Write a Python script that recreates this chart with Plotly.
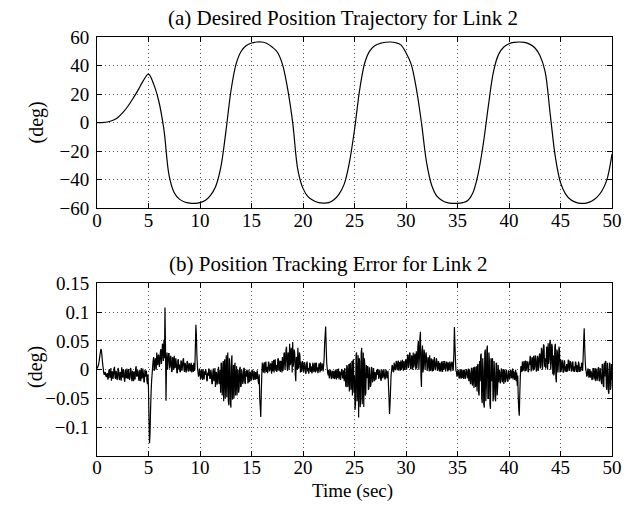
import plotly.graph_objects as go

# ---------------- data ----------------
# (a) desired position of link 2 (deg), sampled every 0.5 s from t = 0 to 50 s
pos_time = [i * 0.5 for i in range(101)]
pos_deg = [
    0, 0.1, 0.5, 1.5, 3.5, 7, 11.5, 17, 23, 29.5,
    34, 27, 15, -5, -37, -49, -53.5, -55.5, -56.3, -56.5,
    -56, -54.5, -51, -45, -32, -7, 22, 41, 50, 54,
    55.8, 56.5, 56.5, 55.5, 53, 49.5, 41, 24, 0, -33,
    -46, -52, -54.5, -56, -56.3, -56, -54, -50, -43, -28,
    -5, 23, 42, 50.5, 54, 55.5, 56.3, 56.5, 56, 54.5,
    49, 41, 24, 0, -28, -44, -51.5, -54.5, -56, -56.5,
    -56.5, -56, -54.5, -49, -36, -15, 12, 36, 48, 53,
    55.3, 56.2, 56.5, 56.2, 55, 52.5, 47, 36, 6, -24,
    -42, -50, -54, -55.8, -56.5, -56.3, -55, -52.5, -48, -40,
    -22,
]

# (b) position tracking error (milli-deg), samples at t = 0.0, 0.1, ... 50.0 s
err_0_10 = [
    2, 6, 14, 27, 36, 20, 3, -9, -4, -13,
    -6, -15, 1, -11, -19, -3, -9, 5, -16, -7,
    -12, -1, -18, -8, 4, -14, -5, -21, -10, 2,
    -16, -7, -13, 0, -20, -9, -3, -17, 6, -11,
    -4, -19, -10, 3, -15, -6, -22, -12, -2, -25,
    -35, -128, -70, -20, 5, 22, 2, 15, 30, 8,
    25, 12, 36, 18, 42, 52, 108, -54, 30, 12,
    28, 6, 20, -2, 15, 24, 4, 12, -6, 18,
    9, -3, 14, 5, 20, -4, 8, 1, 13, -2,
    10, 3, -5, 7, 12, 0, 78, 25, -3, -10,
]
err_10_20 = [
    -2, -14, -7, 1, -17, -9, -4, -20, -11, -1,
    -15, -6, -25, 2, -12, -30, -4, -22, 5, -18,
    -40, 10, -25, -55, 18, -8, -48, 30, -62, 5,
    -66, 25, -35, -50, 12, -20, -45, 0, -32, 5,
    -28, -8, -20, 2, -25, -12, -3, -18, -22, -5,
    -14, -2, -18, -8, -4, -16, -10, -25, -50, -82,
    -8, 10, 3, -6, 14, 5, -2, 12, 0, 8,
    15, 2, -5, 18, 8, 0, 20, 6, -4, 14,
    22, 5, 30, 12, 40, -2, 25, 45, 10, 32,
    48, 15, 28, -20, 20, 38, 5, 25, 14, 0,
]
err_20_30 = [
    12, 0, 8, -6, 14, 3, -2, 10, 6, -4,
    9, 2, -5, 12, 4, -1, 8, 13, 0, 5,
    7, 45, 75, 12, -6, 0, -11, -3, -14, -6,
    -2, -15, -8, 1, -12, -17, -5, -10, 0, -14,
    -20, -6, -30, 5, -15, -38, 12, -25, -45, 18,
    -10, -60, 30, -30, -83, 15, -50, 38, -20, -65,
    10, -40, -15, 5, -32, -8, -25, 2, -18, -10,
    -4, -16, -9, 0, -13, -6, -18, -2, -11, -7,
    -14, -3, -10, -28, -77, -35, -2, 6, -4, 9,
    2, 14, 6, -2, 12, 16, 3, 9, 15, 1,
]
err_30_40 = [
    18, 5, 25, 10, 28, 2, 20, 30, 8, 22,
    32, 12, 50, 20, 66, -30, 42, 5, 28, 15,
    20, 4, 14, 25, -2, 10, 18, 3, 12, 6,
    14, 0, 9, 12, -3, 6, 15, 2, 10, 5,
    8, 13, 1, 10, 6, 12, 4, 74, 18, -4,
    -10, -3, -14, -6, 0, -12, -16, -4, -9, -2,
    -12, -20, -5, -25, 2, -15, -32, 5, -22, -38,
    10, -45, -20, 28, -58, 0, -66, 35, -30, 42,
    -50, 15, -68, -20, 20, -45, -5, -55, 10, -30,
    -22, -5, -18, 0, -12, -25, -3, -15, -8, -20,
]
err_40_50 = [
    -6, -14, -2, -10, -17, -5, -12, -20, -28, -50,
    -80, -12, 6, 14, 0, 9, 16, 2, 12, -3,
    8, 20, 2, 14, 24, 5, 18, -2, 22, 10,
    28, 8, 35, 15, 42, 20, 5, 38, 46, 18,
    52, 12, 40, 25, -5, 45, -22, 30, 10, 35,
    18, 2, 12, -4, 15, 6, 10, -2, 16, 4,
    11, -2, 14, 6, 0, 12, 8, -3, 10, 5,
    2, 9, 22, 72, 15, -4, -10, 0, -8, -14,
    -5, -16, 2, -10, -20, -3, -14, 4, -18, -8,
    -25, 8, -30, -12, 15, -35, -5, -42, 10, -28,
    -18,
]
# samples half-way between the above (t = 0.05, 0.15, ... 49.95 s)
errh_0_10 = [
    4, 9, 20, 33, 30, 10, -5, -6, -10, -8,
    -17, -2, -14, 3, -8, -16, 2, -13, -2, -18,
    3, -16, -4, -19, -10, 1, -17, 0, -15, -11,
    1, -18, 3, -15, -2, -20, -14, 2, -12, -1,
    -18, 0, -20, -14, 2, -21, 0, -3, -20, -8,
    -90, -110, -40, -8, 16, -2, 20, 0, 12, 26,
    5, 30, 10, 45, 15, 20, 40, 10, 0, 28,
    2, 24, -4, 22, 0, 3, 20, -5, 16, 0,
    -4, 16, -2, 17, 0, 12, -5, 15, -3, 11,
    -3, 12, 8, -4, -2, 40, 60, 5, -12, 2,
]
errh_10_20 = [
    -16, 0, -18, -12, -3, 1, -18, -5, 2, -15,
    0, -24, -3, -20, 3, -8, -26, -2, -25, 0,
    12, -45, 15, 8, -50, 25, 10, -55, 20, -58,
    15, -52, 8, 5, -45, 6, -5, -40, 2, -30,
    0, -25, 3, -22, -2, 0, -24, 0, -4, -20,
    0, -16, -2, -18, -15, -1, -20, -8, -65, -40,
    12, -5, 13, 10, -4, -6, 14, -3, 11, -7,
    -3, 17, 14, -2, -4, 18, -2, 16, 15, -5,
    -2, 28, 0, 35, 5, 30, 0, 8, 38, -5,
    5, 35, -8, 22, 0, 2, 30, -5, -4, 15,
]
errh_20_30 = [
    -5, 13, -6, 11, -3, -7, 12, -4, -6, 12,
    -4, 12, 10, -3, -6, 11, -5, -2, 11, -3,
    20, 60, 40, 2, -10, -15, 0, -16, -2, -15,
    -16, 0, -17, -14, 2, -3, -18, 1, -15, -1,
    3, -28, 8, -30, 10, 8, -35, 15, 15, -40,
    -70, 25, -55, 25, 20, -65, 30, -60, 30, 20,
    -45, 8, 6, -35, 4, -30, 5, -22, 3, -20,
    -17, 0, 1, -16, 0, -18, 0, -15, 1, -17,
    0, -15, -2, -50, -60, -10, 8, -3, 12, -1,
    15, -1, 16, 13, -2, 0, 17, -2, 0, 16,
]
errh_30_40 = [
    0, 26, 3, 30, 2, 25, 0, 4, 28, 0,
    2, 40, 0, 55, -10, 30, -5, 35, 0, 30,
    -2, 22, -3, 0, 20, -3, -2, 22, -1, 20,
    -2, 15, -3, -2, 14, -4, 0, 15, -3, 14,
    -3, -1, 14, -3, 14, -2, 30, 45, -2, -12,
    0, -15, 1, -16, -14, 0, 0, -16, 1, -15,
    2, 0, -24, 3, -28, 4, 3, -30, 6, 8,
    -40, 15, 25, -50, 20, -60, 30, -55, 35, -50,
    30, -60, 20, 15, -55, 15, -50, 12, -45, 8,
    0, -24, 2, -22, 1, 0, -22, 0, -20, -1,
]
errh_40_50 = [
    -16, 0, -15, 2, -2, -18, 0, -5, -10, -70,
    -40, 5, -4, -2, 15, -3, -2, 15, -4, 14,
    24, -3, 22, -2, 0, 25, -3, 24, -2, 26,
    2, 38, 0, 44, 5, 2, 40, 0, 10, 45,
    0, 45, -8, -10, 40, -15, 35, -5, 40, -5,
    -4, 17, -5, 16, -3, -4, -3, 17, -2, 15,
    -3, 13, -3, -4, 14, -4, -4, 14, -4, -3,
    12, -2, 50, 40, 0, -12, 2, -14, 1, -2,
    -18, 2, -17, 3, 2, -19, 3, -20, 3, -20,
    10, -28, 12, 14, -30, 12, -38, 12, -35, 10,
]
err_main = err_0_10 + err_10_20 + err_20_30 + err_30_40 + err_40_50
err_half = errh_0_10 + errh_10_20 + errh_20_30 + errh_30_40 + errh_40_50

err_time, err_deg = [], []
for i, v in enumerate(err_main):
    err_time.append(round(i * 0.1, 2))
    err_deg.append(v / 1000.0)
    if i < len(err_half):
        err_time.append(round(i * 0.1 + 0.05, 2))
        err_deg.append(err_half[i] / 1000.0)

x_ticks = [0, 5, 10, 15, 20, 25, 30, 35, 40, 45, 50]
top_y_ticks = [-60, -40, -20, 0, 20, 40, 60]
top_y_text = ["\u221260", "\u221240", "\u221220", "0", "20", "40", "60"]
bot_y_ticks = [-0.1, -0.05, 0, 0.05, 0.1, 0.15]
bot_y_text = ["\u22120.1", "\u22120.05", "0", "0.05", "0.1", "0.15"]

# ---------------- figure ----------------
FONT = "Liberation Serif"
fig = go.Figure()
fig.add_trace(go.Scatter(x=pos_time, y=pos_deg, mode="lines",
                         line=dict(color="black", width=1.2, shape="spline", smoothing=1.0),
                         xaxis="x", yaxis="y", showlegend=False))
fig.add_trace(go.Scatter(x=err_time, y=err_deg, mode="lines",
                         line=dict(color="black", width=1.2, simplify=False),
                         xaxis="x2", yaxis="y2", showlegend=False))

axis_common = dict(showline=True, mirror="allticks", linecolor="black", linewidth=1,
                   ticks="inside", ticklen=5, tickcolor="black",
                   showgrid=True, gridcolor="#555555", griddash="1px,3px", gridwidth=1,
                   zeroline=False, tickfont=dict(family=FONT, size=19, color="black"))

fig.update_layout(
    width=634, height=505,
    margin=dict(l=97, r=22, t=37, b=49),
    paper_bgcolor="white", plot_bgcolor="white",
    xaxis=dict(domain=[0, 1], anchor="y", range=[0, 50], tickvals=x_ticks,
               ticklabelstandoff=-5, **axis_common),
    yaxis=dict(domain=[0.591, 1], anchor="x", range=[-60, 60],
               tickvals=top_y_ticks, ticktext=top_y_text, ticklabelstandoff=3, **axis_common),
    xaxis2=dict(domain=[0, 1], anchor="y2", range=[0, 50], tickvals=x_ticks,
                ticklabelstandoff=-6, **axis_common),
    yaxis2=dict(domain=[0, 0.412], anchor="x2", range=[-0.15, 0.15],
                tickvals=bot_y_ticks, ticktext=bot_y_text, ticklabelstandoff=3, **axis_common),
    annotations=[
        dict(text="(a) Desired Position Trajectory for Link 2", xref="paper", yref="paper",
             x=(342.7 - 97) / 515, y=(456 - 18) / 419, xanchor="center", yanchor="middle",
             showarrow=False, font=dict(family=FONT, size=21, color="black")),
        dict(text="(b) Position Tracking Error for Link 2", xref="paper", yref="paper",
             x=(328 - 97) / 515, y=(456 - 264) / 419, xanchor="center", yanchor="middle",
             showarrow=False, font=dict(family=FONT, size=21, color="black")),
        dict(text="(deg)", xref="paper", yref="paper", textangle=-90,
             x=(36 - 97) / 515, y=(456 - 122.5) / 419, xanchor="center", yanchor="middle",
             showarrow=False, font=dict(family=FONT, size=20, color="black")),
        dict(text="(deg)", xref="paper", yref="paper", textangle=-90,
             x=(35 - 97) / 515, y=(456 - 367) / 419, xanchor="center", yanchor="middle",
             showarrow=False, font=dict(family=FONT, size=20, color="black")),
        dict(text="Time (sec)", xref="paper", yref="paper",
             x=(352 - 97) / 515, y=(456 - 491) / 419, xanchor="center", yanchor="middle",
             showarrow=False, font=dict(family=FONT, size=19, color="black")),
    ],
)

fig.write_html("out.html", config={"displayModeBar": False},
               post_script="document.body.style.margin='0px';")
